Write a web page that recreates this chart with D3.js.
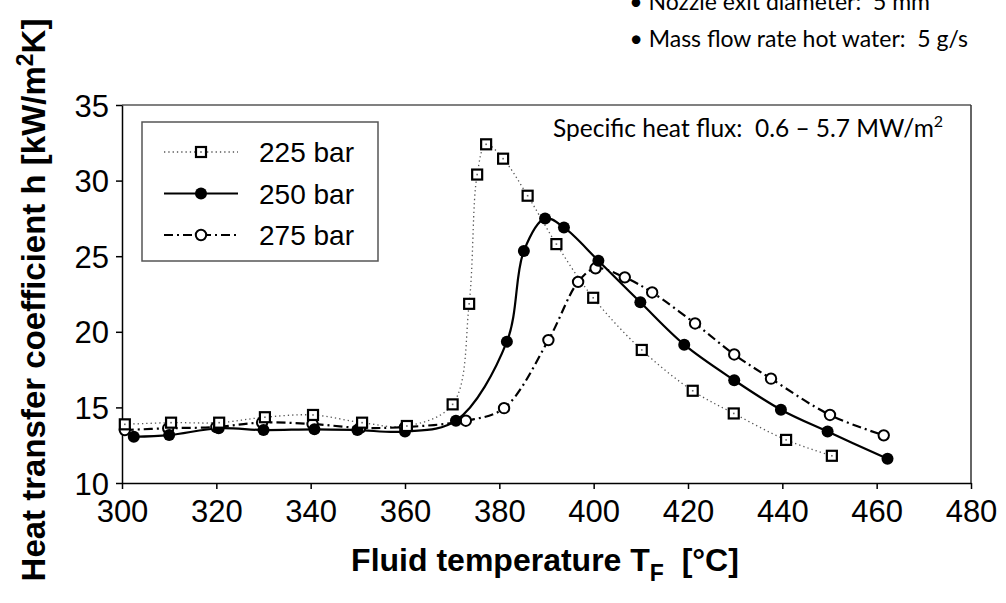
<!DOCTYPE html>
<html>
<head>
<meta charset="utf-8">
<script src="https://cdnjs.cloudflare.com/ajax/libs/d3/7.8.5/d3.min.js"></script>
<style>
  html, body { margin: 0; padding: 0; background: #fff; }
  svg { display: block; }
</style>
</head>
<body>
<svg id="chart" width="1006" height="603"></svg>
<script>
// ---------------- data ----------------
const seriesNames = ["225 bar", "250 bar", "275 bar"];

const temp225 = [300.6, 310.4, 320.6, 330.3, 340.5, 350.9, 360.4, 370.1, 373.6, 375.3, 377.2, 380.8, 386.0, 392.1, 399.9, 410.2, 421.0, 429.7, 440.8, 450.5];
const h225    = [13.88, 13.99, 13.99, 14.35, 14.50, 13.99, 13.77, 15.20, 21.85, 30.40, 32.40, 31.45, 29.0, 25.80, 22.25, 18.80, 16.10, 14.60, 12.85, 11.80];

const temp250 = [302.5, 310.0, 320.5, 330.0, 340.8, 349.9, 360.0, 370.8, 381.6, 385.2, 389.7, 393.7, 401.0, 409.9, 419.2, 429.8, 439.7, 449.6, 462.3];
const h250    = [13.06, 13.17, 13.62, 13.50, 13.55, 13.50, 13.40, 14.12, 19.35, 25.35, 27.50, 26.90, 24.70, 21.95, 19.15, 16.80, 14.85, 13.40, 11.60];

const temp275 = [300.6, 309.8, 320.0, 329.7, 340.4, 350.5, 360.0, 372.9, 381.0, 390.4, 396.7, 400.4, 406.6, 412.4, 421.5, 429.8, 437.6, 450.1, 461.5];
const h275    = [13.50, 13.62, 13.70, 14.00, 13.90, 13.65, 13.70, 14.12, 14.95, 19.45, 23.30, 24.20, 23.60, 22.60, 20.55, 18.50, 16.90, 14.50, 13.15];

const xTicks = [300, 320, 340, 360, 380, 400, 420, 440, 460, 480];
const yTicks = [10, 15, 20, 25, 30, 35];

const noteLines = ["• Nozzle exit diameter:  5 mm", "• Mass flow rate hot water:  5 g/s"];
const fluxText = "Specific heat flux:  0.6 – 5.7 MW/m";

// ---------------- layout ----------------
const svg = d3.select("#chart");
const L = 122, R = 971, T = 105, B = 483;

const x = d3.scaleLinear().domain([300, 480]).range([L, R]);
const y = d3.scaleLinear().domain([10, 35]).range([B, T]);

const axisFont = "'Liberation Sans', Arial, sans-serif";
const noteFont = "Lato, 'Open Sans', sans-serif";

// plot frame (top & right)
svg.append("line").attr("x1", L).attr("x2", R).attr("y1", T).attr("y2", T)
  .attr("stroke", "#808080").attr("stroke-width", 2);
svg.append("line").attr("x1", R).attr("x2", R).attr("y1", T).attr("y2", B)
  .attr("stroke", "#333").attr("stroke-width", 1.5);

// axes
const xAxis = d3.axisBottom(x).tickValues(xTicks).tickSize(6).tickSizeOuter(0);
const yAxis = d3.axisLeft(y).tickValues(yTicks).tickSize(6).tickPadding(7).tickSizeOuter(0);

const gx = svg.append("g").attr("transform", `translate(0,${B})`).call(xAxis);
const gy = svg.append("g").attr("transform", `translate(${L},0)`).call(yAxis);
[gx, gy].forEach(g => {
  g.select(".domain").attr("stroke", "#000").attr("stroke-width", 1.5);
  g.selectAll(".tick line").attr("stroke", "#000").attr("stroke-width", 1.5);
  g.selectAll(".tick text").attr("fill", "#000")
    .style("font-family", axisFont).style("font-size", "31px");
});
gx.selectAll(".tick text").attr("y", 39).attr("dy", 0);
gy.selectAll(".tick text").attr("dy", "0.36em");

// axis titles
const yt = svg.append("text")
  .attr("transform", `translate(45,${300}) rotate(-90)`)
  .attr("text-anchor", "middle")
  .style("font-family", axisFont).style("font-weight", "bold").style("font-size", "33px")
  .attr("fill", "#000");
yt.append("tspan").text("Heat transfer coefficient h [kW/m");
yt.append("tspan").attr("dy", -12).style("font-size", "23px").text("2");
yt.append("tspan").attr("dy", 12).text("K]");

const xt = svg.append("text")
  .attr("x", 545).attr("y", 571)
  .attr("text-anchor", "middle")
  .attr("xml:space", "preserve")
  .style("font-family", axisFont).style("font-weight", "bold").style("font-size", "32px")
  .attr("fill", "#000");
xt.append("tspan").text("Fluid temperature T");
xt.append("tspan").attr("dy", 10).style("font-size", "23px").text("F");
xt.append("tspan").attr("dy", -10).text("  [°C]");

// notes
svg.selectAll("text.note").data(noteLines).enter().append("text")
  .attr("class", "note")
  .attr("x", (d, i) => i === 0 ? 930 : 968).attr("y", (d, i) => 10 + i * 37)
  .attr("text-anchor", "end")
  .attr("xml:space", "preserve")
  .style("font-family", noteFont).style("font-size", "23px").attr("fill", "#000")
  .text(d => d);

const ft = svg.append("text").attr("x", 553).attr("y", 137)
  .attr("xml:space", "preserve")
  .style("font-family", noteFont).style("font-size", "24.5px").attr("fill", "#000");
ft.append("tspan").text(fluxText);
ft.append("tspan").attr("dy", -10).style("font-size", "16px").text("2");

// ---------------- series ----------------
function toPts(xs, ys) { return xs.map((t, i) => [t, ys[i]]); }
const data225 = toPts(temp225, h225);
const data250 = toPts(temp250, h250);
const data275 = toPts(temp275, h275);

const line = d3.line().x(d => x(d[0])).y(d => y(d[1])).curve(d3.curveCatmullRom.alpha(0.5));

const styles = [
  { stroke: "#555", width: 1.3, dash: "1.3,3" },
  { stroke: "#000", width: 2.2, dash: null },
  { stroke: "#000", width: 2.2, dash: "9,4,2,4" }
];
const allData = [data225, data250, data275];

allData.forEach((d, i) => {
  svg.append("path").datum(d).attr("d", line)
    .attr("fill", "none").attr("stroke", styles[i].stroke)
    .attr("stroke-width", styles[i].width)
    .attr("stroke-dasharray", styles[i].dash);
});

function drawMarker(g, kind, cx, cy) {
  if (kind === 0) {
    g.append("rect").attr("x", cx - 5).attr("y", cy - 5).attr("width", 10).attr("height", 10)
      .attr("fill", "#fff").attr("stroke", "#000").attr("stroke-width", 2.2);
    g.append("rect").attr("x", cx - 0.8).attr("y", cy - 0.8).attr("width", 1.6).attr("height", 1.6)
      .attr("fill", "#666");
  } else if (kind === 1) {
    g.append("circle").attr("cx", cx).attr("cy", cy).attr("r", 6).attr("fill", "#000");
  } else {
    g.append("circle").attr("cx", cx).attr("cy", cy).attr("r", 5.2).attr("fill", "#fff")
      .attr("stroke", "#000").attr("stroke-width", 2);
  }
}

// draw markers: 275 first, then 250, then 225
[2, 1, 0].forEach(i => {
  const g = svg.append("g");
  allData[i].forEach(p => drawMarker(g, i, x(p[0]), y(p[1])));
});

// ---------------- legend ----------------
const lg = svg.append("g");
lg.append("rect").attr("x", 142).attr("y", 122).attr("width", 236).attr("height", 139)
  .attr("fill", "#fff").attr("stroke", "#555").attr("stroke-width", 1.5);
seriesNames.forEach((name, i) => {
  const cy = 152 + i * 41.5;
  lg.append("line").attr("x1", 164).attr("x2", 238).attr("y1", cy).attr("y2", cy)
    .attr("stroke", styles[i].stroke).attr("stroke-width", styles[i].width)
    .attr("stroke-dasharray", styles[i].dash);
  drawMarker(lg, i, 201, cy);
  lg.append("text").attr("x", 259).attr("y", cy).attr("dy", "0.36em")
    .style("font-family", axisFont).style("font-size", "28px").attr("fill", "#000")
    .text(name);
});
</script>
</body>
</html>
